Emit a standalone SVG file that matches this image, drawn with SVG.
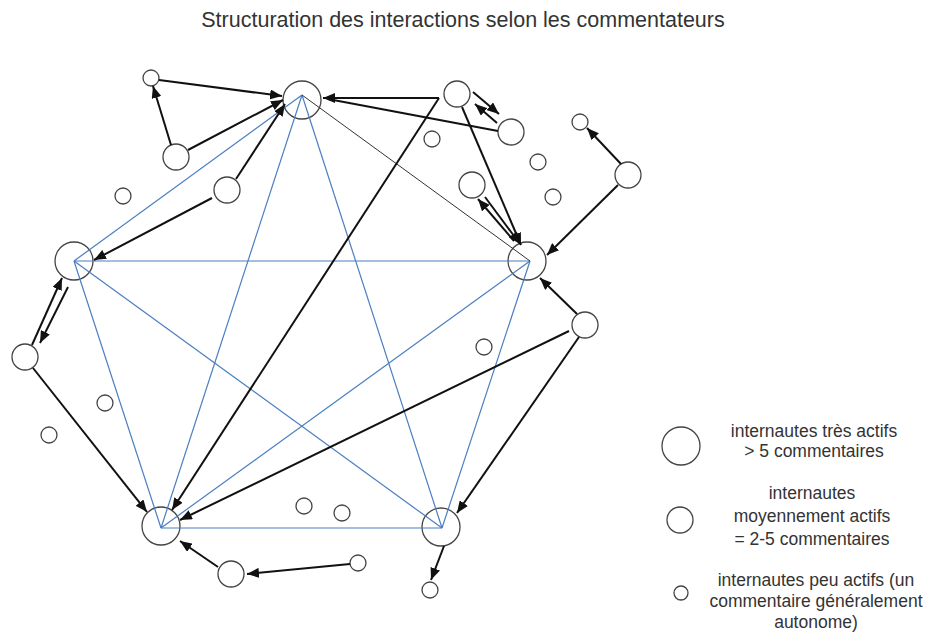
<svg xmlns="http://www.w3.org/2000/svg" width="926" height="632" viewBox="0 0 926 632">
<defs>
<marker id="ah" viewBox="0 0 12 10" refX="12" refY="5" markerWidth="12" markerHeight="10" orient="auto" markerUnits="userSpaceOnUse"><path d="M0,0 L12,5 L0,10 z" fill="#111"/></marker>
</defs>
<style>
.n{fill:#fff;stroke:#444;stroke-width:1.3}
.b{stroke:#4a7fc1;stroke-width:1.2;fill:none}
.g{stroke:#333;stroke-width:1;fill:none}
.a{stroke:#111;stroke-width:2;fill:none;marker-end:url(#ah)}
.p{stroke:#111;stroke-width:2;fill:none}
text{font-family:"Liberation Sans",Arial,sans-serif;fill:#333}
.t{font-size:21.5px}
.l{font-size:17.5px}
</style>
<rect width="926" height="632" fill="#fff"/>
<text class="t" x="463" y="27" text-anchor="middle">Structuration des interactions selon les commentateurs</text>

<g id="nodes-major">
<g id="n_top"><circle class="n" cx="302" cy="100" r="19"/></g>
<g id="n_tr"><circle class="n" cx="527" cy="261" r="19"/></g>
<g id="n_left"><circle class="n" cx="74" cy="261" r="19"/></g>
<g id="n_bl"><circle class="n" cx="161" cy="526" r="19"/></g>
<g id="n_br"><circle class="n" cx="441" cy="527" r="19"/></g>
</g>
<g id="nodes-minor">
<g id="n_a"><circle class="n" cx="151" cy="78" r="8"/></g>
<g id="n_b"><circle class="n" cx="176" cy="157" r="13"/></g>
<g id="n_c"><circle class="n" cx="227" cy="190" r="13"/></g>
<g id="n_s1"><circle class="n" cx="123" cy="196" r="8"/></g>
<g id="n_d"><circle class="n" cx="457" cy="94" r="13"/></g>
<g id="n_e"><circle class="n" cx="511" cy="132" r="13"/></g>
<g id="n_s2"><circle class="n" cx="432" cy="139" r="8"/></g>
<g id="n_f"><circle class="n" cx="472" cy="185" r="13"/></g>
<g id="n_s3"><circle class="n" cx="538" cy="162" r="8"/></g>
<g id="n_s4"><circle class="n" cx="553" cy="197" r="8"/></g>
<g id="n_h"><circle class="n" cx="580" cy="122" r="8"/></g>
<g id="n_g"><circle class="n" cx="628" cy="175" r="13"/></g>
<g id="n_i"><circle class="n" cx="585" cy="325" r="13"/></g>
<g id="n_s5"><circle class="n" cx="484" cy="347" r="8"/></g>
<g id="n_k"><circle class="n" cx="25" cy="357" r="13"/></g>
<g id="n_s6"><circle class="n" cx="105" cy="403" r="8"/></g>
<g id="n_s7"><circle class="n" cx="49" cy="435" r="8"/></g>
<g id="n_s8"><circle class="n" cx="304" cy="506" r="8"/></g>
<g id="n_s9"><circle class="n" cx="342" cy="513" r="8"/></g>
<g id="n_l"><circle class="n" cx="231" cy="574" r="13"/></g>
<g id="n_m"><circle class="n" cx="358" cy="563" r="8"/></g>
<g id="n_j"><circle class="n" cx="430" cy="590" r="8"/></g>
</g>

<g id="connectors">
<line class="b" x1="302" y1="95" x2="74" y2="261"/>
<line class="b" x1="302" y1="95" x2="161" y2="528"/>
<line class="b" x1="302" y1="95" x2="442" y2="528"/>
<line class="b" x1="74" y1="261" x2="530" y2="261"/>
<line class="b" x1="74" y1="261" x2="161" y2="528"/>
<line class="b" x1="74" y1="261" x2="442" y2="528"/>
<line class="b" x1="530" y1="261" x2="161" y2="528"/>
<line class="b" x1="530" y1="261" x2="442" y2="528"/>
<line class="b" x1="161" y1="528" x2="442" y2="528"/>
<line class="g" x1="302" y1="95" x2="530" y2="261"/>

<line class="a" x1="159" y1="80" x2="282" y2="96"/>
<line class="a" x1="171" y1="145" x2="153" y2="86"/>
<line class="a" x1="188" y1="150" x2="283" y2="100"/>
<line class="a" x1="236" y1="179" x2="285" y2="104"/>
<line class="a" x1="212" y1="198" x2="94" y2="260"/>
<line class="a" x1="439" y1="98" x2="323" y2="98"/>
<line class="p" x1="498" y1="131" x2="328" y2="99"/>
<line class="a" x1="439" y1="98" x2="172" y2="510"/>
<line class="a" x1="473" y1="92" x2="499" y2="114"/>
<line class="a" x1="497" y1="123" x2="475" y2="104"/>
<line class="a" x1="462" y1="107" x2="521" y2="245"/>
<line class="a" x1="514" y1="241" x2="478" y2="199"/>
<line class="a" x1="485" y1="197" x2="520" y2="244"/>
<line class="a" x1="621" y1="164" x2="587" y2="128"/>
<line class="a" x1="618" y1="185" x2="547" y2="255"/>
<line class="a" x1="577" y1="314" x2="540" y2="278"/>
<line class="a" x1="569" y1="331" x2="180" y2="520"/>
<line class="a" x1="579" y1="337" x2="457" y2="513"/>
<line class="a" x1="444" y1="546" x2="431" y2="580"/>
<line class="a" x1="32" y1="345" x2="62" y2="278"/>
<line class="a" x1="68" y1="287" x2="40" y2="343"/>
<line class="a" x1="33" y1="368" x2="147" y2="512"/>
<line class="a" x1="350" y1="564" x2="247" y2="574"/>
<line class="a" x1="218" y1="567" x2="180" y2="541"/>
</g>

<g id="legend">
<g id="leg_large"><circle class="n" cx="681" cy="446" r="19"/>
<text class="l" x="814" y="437" text-anchor="middle">internautes très actifs</text>
<text class="l" x="814" y="457" text-anchor="middle">&gt; 5 commentaires</text></g>
<g id="leg_medium"><circle class="n" cx="680" cy="520" r="13"/>
<text class="l" x="812" y="499" text-anchor="middle">internautes</text>
<text class="l" x="812" y="522" text-anchor="middle">moyennement actifs</text>
<text class="l" x="812" y="545" text-anchor="middle">= 2-5 commentaires</text></g>
<g id="leg_small"><circle class="n" cx="681" cy="593" r="7"/>
<text class="l" x="816" y="586" text-anchor="middle">internautes peu actifs (un</text>
<text class="l" x="816" y="607" text-anchor="middle">commentaire généralement</text>
<text class="l" x="816" y="628" text-anchor="middle">autonome)</text></g>
</g>
</svg>
